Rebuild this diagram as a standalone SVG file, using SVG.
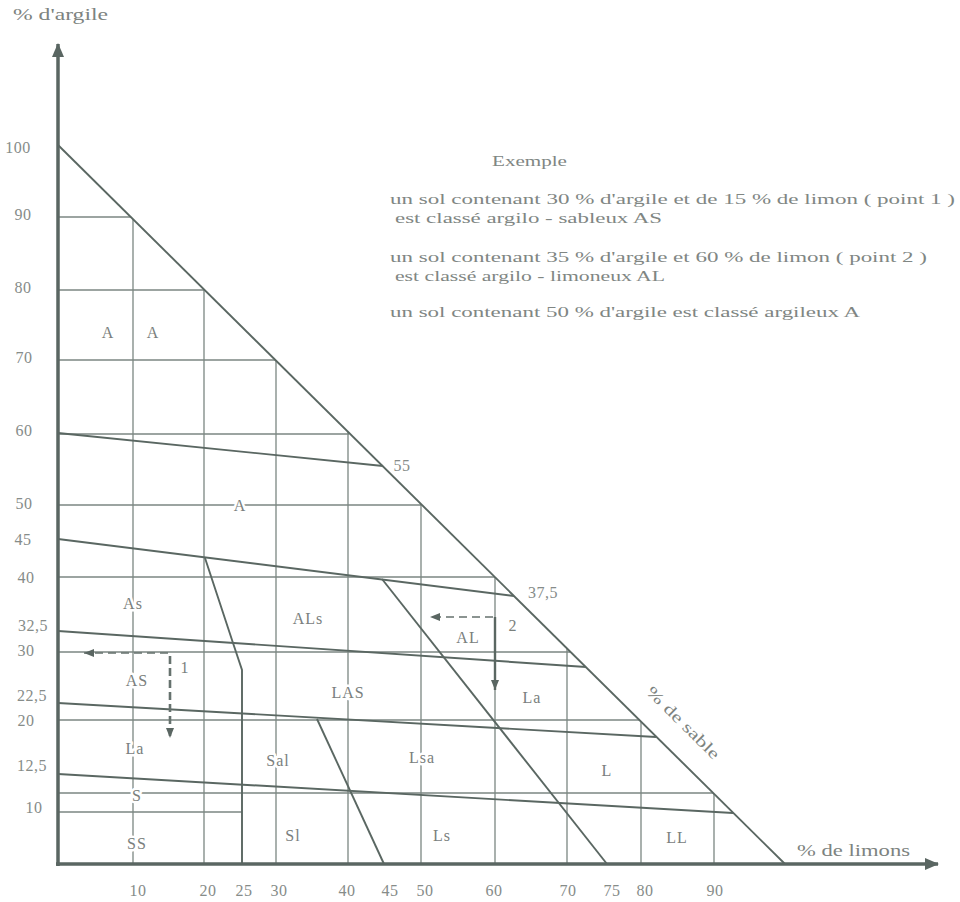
<svg xmlns="http://www.w3.org/2000/svg" width="960" height="902" viewBox="0 0 960 902">
<style>
.t{font-family:"Liberation Serif","Times New Roman",serif;fill:#7d8380;font-size:16px}
.lb{font-family:"Liberation Serif","Times New Roman",serif;fill:#7a807d;font-size:16px;letter-spacing:1px;text-anchor:middle;stroke:#fff;stroke-width:5px;paint-order:stroke;stroke-linejoin:round}
.ax{font-family:"Liberation Serif","Times New Roman",serif;fill:#868c89;font-size:16px;letter-spacing:0.5px;text-anchor:middle}
.ex{font-family:"Liberation Serif","Times New Roman",serif;fill:#808683;font-size:15px}
.grid{stroke:#7c8783;stroke-width:1.3;fill:none}
.bnd{stroke:#5a6762;stroke-width:1.9;fill:none}
.axis{stroke:#5a6662;stroke-width:3.5;fill:none}
.dash{stroke:#66726e;stroke-width:1.6;stroke-dasharray:8 5;fill:none}
.dashb{stroke:#66726e;stroke-width:2.6;stroke-dasharray:8 4;fill:none}
.arr{stroke:#5a6762;stroke-width:2.4;fill:none}
</style>
<defs>
<marker id="ah" viewBox="0 0 10 8" refX="10" refY="4" markerWidth="10" markerHeight="8" markerUnits="userSpaceOnUse" orient="auto">
<path d="M0,0 L10,4 L0,8 z" fill="#5a6662"/>
</marker>
<marker id="ahBig" viewBox="0 0 14 12" refX="13" refY="6" markerWidth="14" markerHeight="12" markerUnits="userSpaceOnUse" orient="auto">
<path d="M0,0 L14,6 L0,12 z" fill="#5a6662"/>
</marker>
</defs>
<rect width="960" height="902" fill="#fff"/>

<g id="grid">
<path class="grid" d="M58,217 H131 M58,290 H204 M58,360 H275 M58,434 H349 M58,505 H421 M58,577 H495 M58,652 H570 M58,720 H639 M58,793 H713 M58,812 H242"/>
<path class="grid" d="M133,219 V864 M204,290 V864 M276,361 V864 M348,432 V864 M421,504 V864 M495,577 V864 M567,648 V864 M641,722 V864 M714,794 V864"/>
</g>

<g id="boundaries">
<path class="bnd" d="M58,145 L785,864"/>
<path class="bnd" d="M58,433 L383,466"/>
<path class="bnd" d="M58,539 L514,596"/>
<path class="bnd" d="M58,631 L586,667"/>
<path class="bnd" d="M58,703 L656,737"/>
<path class="bnd" d="M58,774 L733,813"/>
<path class="bnd" d="M382,579 L607,864"/>
<path class="bnd" d="M317,719 L384,864"/>
<path class="bnd" d="M205,558 L233,643 L242,670 L242,864"/>
</g>

<g id="axes">
<path class="axis" d="M58,866 V44" marker-end="url(#ahBig)"/>
<path class="axis" d="M56,864 H938" marker-end="url(#ahBig)"/>
</g>

<g id="connectors">
<path class="dash" d="M168,653 H84" marker-end="url(#ah)"/>
<path class="dashb" d="M170,656 V738" marker-end="url(#ah)"/>
<path class="dash" d="M493,617 H430" marker-end="url(#ah)"/>
<path class="arr" d="M495,617 V690" marker-end="url(#ah)"/>
</g>

<g id="class-labels">
<text class="lb" x="108" y="338">A</text>
<text class="lb" x="153" y="338">A</text>
<text class="lb" x="240" y="511">A</text>
<text class="lb" x="133" y="609">As</text>
<text class="lb" x="308" y="624">ALs</text>
<text class="lb" x="468" y="643">AL</text>
<text class="lb" x="137" y="686">AS</text>
<text class="lb" x="348" y="698">LAS</text>
<text class="lb" x="532" y="703">La</text>
<text class="lb" x="135" y="754">La</text>
<text class="lb" x="278" y="766">Sal</text>
<text class="lb" x="422" y="763">Lsa</text>
<text class="lb" x="607" y="776">L</text>
<text class="lb" x="137" y="801">S</text>
<text class="lb" x="137" y="849">SS</text>
<text class="lb" x="293" y="841">Sl</text>
<text class="lb" x="442" y="841">Ls</text>
<text class="lb" x="677" y="843">LL</text>
</g>

<g id="point-labels">
<text class="lb" x="185" y="673">1</text>
<text class="lb" x="513" y="631">2</text>
<text class="ax" x="402" y="471">55</text>
<text class="ax" x="543" y="598">37,5</text>
</g>

<g id="y-labels">
<text class="ax" x="18" y="153">100</text>
<text class="ax" x="23" y="220">90</text>
<text class="ax" x="23" y="293">80</text>
<text class="ax" x="24" y="363">70</text>
<text class="ax" x="24" y="436">60</text>
<text class="ax" x="24" y="509">50</text>
<text class="ax" x="23" y="545">45</text>
<text class="ax" x="26" y="583">40</text>
<text class="ax" x="33" y="631">32,5</text>
<text class="ax" x="26" y="656">30</text>
<text class="ax" x="32" y="701">22,5</text>
<text class="ax" x="26" y="726">20</text>
<text class="ax" x="32" y="771">12,5</text>
<text class="ax" x="34" y="813">10</text>
</g>

<g id="x-labels">
<text class="ax" x="138" y="896">10</text>
<text class="ax" x="208" y="896">20</text>
<text class="ax" x="244" y="896">25</text>
<text class="ax" x="279" y="896">30</text>
<text class="ax" x="347" y="896">40</text>
<text class="ax" x="390" y="896">45</text>
<text class="ax" x="425" y="896">50</text>
<text class="ax" x="494" y="896">60</text>
<text class="ax" x="568" y="896">70</text>
<text class="ax" x="612" y="896">75</text>
<text class="ax" x="645" y="896">80</text>
<text class="ax" x="715" y="896">90</text>
</g>

<g id="axis-titles">
<text class="t" x="13" y="20" textLength="95" lengthAdjust="spacingAndGlyphs">% d'argile</text>
<text class="t" x="797" y="856" textLength="113" lengthAdjust="spacingAndGlyphs">% de limons</text>
<text class="t" transform="translate(683,723) rotate(44.7)" x="0" y="5" text-anchor="middle" textLength="96" lengthAdjust="spacingAndGlyphs">% de sable</text>
</g>

<g id="example">
<text class="ex" x="492" y="166" textLength="75" lengthAdjust="spacingAndGlyphs">Exemple</text>
<text class="ex" x="390" y="204" textLength="565" lengthAdjust="spacingAndGlyphs">un sol contenant 30 % d'argile et de 15 % de limon ( point 1 )</text>
<text class="ex" x="395" y="223" textLength="267" lengthAdjust="spacingAndGlyphs">est classé argilo - sableux AS</text>
<text class="ex" x="390" y="262" textLength="537" lengthAdjust="spacingAndGlyphs">un sol contenant 35 % d'argile et 60  % de limon ( point 2 )</text>
<text class="ex" x="395" y="281" textLength="270" lengthAdjust="spacingAndGlyphs">est classé argilo - limoneux AL</text>
<text class="ex" x="390" y="317" textLength="470" lengthAdjust="spacingAndGlyphs">un sol contenant 50 % d'argile est classé argileux A</text>
</g>
</svg>
